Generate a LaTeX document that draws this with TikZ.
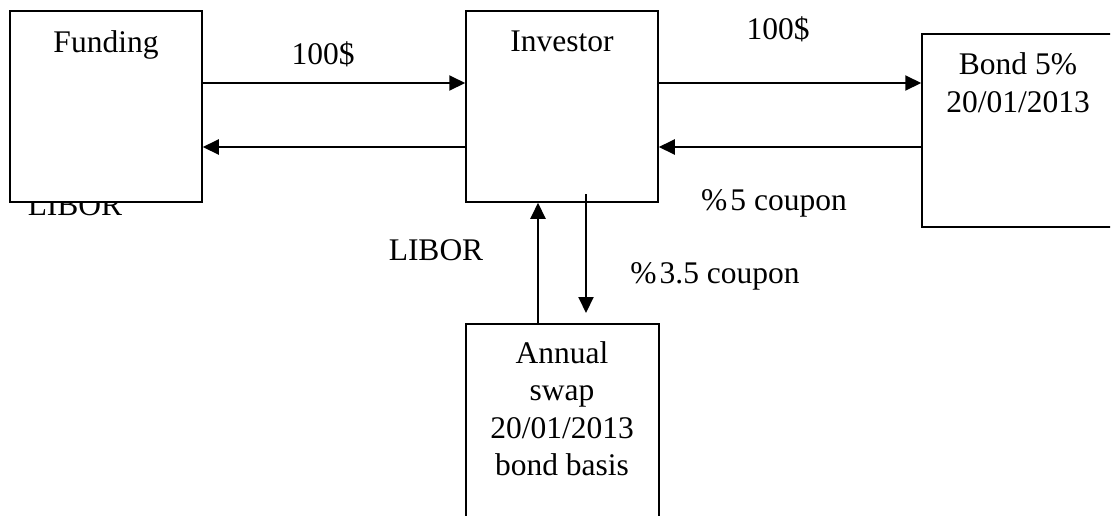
\documentclass[tikz,border=0pt]{standalone}
\usepackage{fontspec}
\setmainfont{Liberation Serif}
\usetikzlibrary{arrows.meta}
\begin{document}
\begin{tikzpicture}[x=1pt,y=-1pt,
  box/.style={draw=black,fill=white,line width=1.5pt,rectangle,inner sep=0pt},
  lbl/.style={font=\fontsize{31.5}{37}\selectfont,anchor=base,inner sep=0pt},
  arr/.style={line width=2pt,-{Triangle[length=16pt,width=15pt]}}]
\useasboundingbox (0,0) rectangle (1113,515);
\clip (0,0) rectangle (1110,515);
% label partly hidden behind the Funding box
\node[lbl] (libor1) at (75,215) {LIBOR};
% boxes
\node[box,minimum width=192pt,minimum height=191pt] (fund) at (106,106.5) {};
\node[box,minimum width=192pt,minimum height=191pt] (inv) at (562,106.5) {};
\node[box,minimum width=230pt,minimum height=193pt] (bond) at (1037,130.5) {};
\node[box,minimum width=193pt,minimum height=201pt] (swap) at (562.5,424.5) {};
% box texts
\node[lbl] (tfund) at (106,52) {Funding};
\node[lbl] (tinv) at (562,51) {Investor};
\node[lbl] (tbond1) at (1018,74) {Bond 5\%};
\node[lbl] (tbond2) at (1018,112) {20/01/2013};
\node[lbl] (tswap1) at (562,363) {Annual};
\node[lbl] (tswap2) at (562,400) {swap};
\node[lbl] (tswap3) at (562,438) {20/01/2013};
\node[lbl] (tswap4) at (562,475) {bond basis};
% arrows
\draw[arr] (fund.east |- 0,83) -- (inv.west |- 0,83);
\draw[arr] (inv.west |- 0,147) -- (fund.east |- 0,147);
\draw[arr] (inv.east |- 0,83) -- (bond.west |- 0,83);
\draw[arr] (bond.west |- 0,147) -- (inv.east |- 0,147);
\draw[arr] (swap.north -| 538,0) -- (inv.south -| 538,0);
\coordinate (dtop) at (586,194);
\coordinate (dbot) at (586,313);
\draw[arr] (dtop) -- (dbot);
% connector labels
\node[lbl] (l100a) at (323,64) {100\$};
\node[lbl] (l100b) at (778,39) {100\$};
\node[lbl] (lcoup5) at (774,210) {\%\kern3pt5 coupon};
\node[lbl] (libor2) at (436,260) {LIBOR};
\node[lbl] (lcoup35) at (715,283) {\%\kern3pt3.5 coupon};
\end{tikzpicture}
\end{document}
